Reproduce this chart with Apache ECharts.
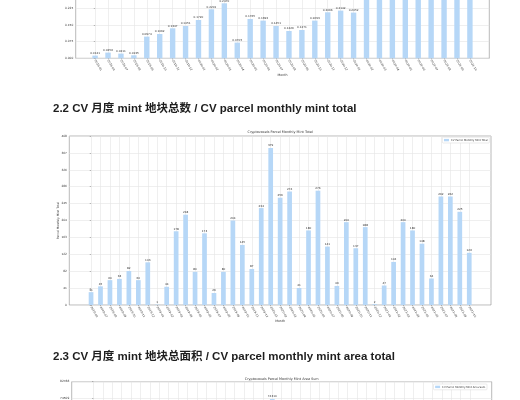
<!DOCTYPE html>
<html><head><meta charset="utf-8">
<script src="https://cdn.jsdelivr.net/npm/echarts@6/dist/echarts.min.js"></script>
<style>html,body{margin:0;padding:0;background:#fff}#c{width:520px;height:400px}</style>
</head><body><div id="c"></div>
<script>
// ---- data ----
const topMonths = ['2019-05','2019-06','2019-07','2019-08','2019-09','2019-10','2019-11','2019-12',
  '2020-01','2020-02','2020-03','2020-04','2020-05','2020-06','2020-07','2020-08','2020-09','2020-10','2020-11','2020-12',
  '2021-01','2021-02','2021-03','2021-04','2021-05','2021-06','2021-07','2021-08','2021-09','2021-10'];
const topValues = [0.0121,0.0256,0.0211,0.0135,0.0974,0.1092,0.1347,0.1451,0.1720,0.2201,0.2470,0.0705,0.1765,0.1693,
  0.1451,0.1226,0.1271,0.1693,0.2066,0.2142,0.2052,0.3120,0.3580,0.3960,0.4310,0.4740,0.5210,0.5790,0.6480,0.7140];
const topYLabels = ['0.000','0.075','0.150','0.225','0.300','0.375','0.450','0.525','0.600','0.675','0.750'];

const months = ['2018-06','2018-07','2018-08','2018-09','2018-10','2018-11','2018-12',
  '2019-01','2019-02','2019-03','2019-04','2019-05','2019-06','2019-07','2019-08','2019-09','2019-10','2019-11','2019-12',
  '2020-01','2020-02','2020-03','2020-04','2020-05','2020-06','2020-07','2020-08','2020-09','2020-10','2020-11','2020-12',
  '2021-01','2021-02','2021-03','2021-04','2021-05','2021-06','2021-07','2021-08','2021-09','2021-10'];
const mintTotal = [31,45,60,63,82,60,103,1,44,178,218,80,173,29,80,204,145,87,234,379,259,274,41,180,276,141,46,200,137,188,2,47,104,200,180,148,64,262,262,225,126];
const mintYLabels = ['0','41','82','122','163','204','245','286','326','367','408'];

const areaSum = [5900,8600,11400,12000,15600,11400,19600,200,8400,33800,41400,15200,32900,5500,15200,38800,27600,16500,44500,74310,
  49200,52100,7800,34200,52400,26800,8700,38000,26000,35700,400,8900,19800,38000,34200,28100,12200,49800,49800,42800,23900];
const areaYLabels = ['0','8279','16558','24836','33115','41394','49673','57952','66230','74509','82788'];

const heading22 = '2.2 CV 月度 mint 地块总数 / CV parcel monthly mint total';
const heading23 = '2.3 CV 月度 mint 地块总面积 / CV parcel monthly mint area total';
const mainTitle = 'Cryptovoxels Parcel Monthly Mint Total';
const areaTitle = 'Cryptovoxels Parcel Monthly Mint Area Sum';

// ---- styles ----
const FF = 'DejaVu Sans';
const BAR = '#b6d7f7';
const TXT = '#333';
const idx = n => Array.from({length:n}, (_, i) => i);

function xAxisCfg(grid, n, lo, hi, labels, name){
  return {
    type:'value', gridIndex:grid, min:lo, max:hi,
    name:name, nameLocation:'middle', nameGap:15, nameMoveOverlap:false,
    nameTextStyle:{fontSize:3.2, color:TXT, fontFamily:FF},
    axisLine:{show:false},
    axisTick:{show:true, length:1.3, lineStyle:{color:'#777', width:0.5}, customValues:idx(n)},
    axisLabel:{customValues:idx(n), rotate:-60, fontSize:2.9, color:TXT, fontFamily:FF, margin:1.8,
      formatter:v => labels[Math.round(v)]},
    splitLine:{show:true, lineStyle:{color:'#e4e4e4', width:0.6}}
  };
}
function yAxisCfg(grid, max, labels, name, gap){
  return {
    type:'value', gridIndex:grid, min:0, max:max, interval:max/10,
    name:name, nameLocation:'middle', nameGap:gap, nameMoveOverlap:false,
    nameTextStyle:{fontSize:3.0, color:TXT, fontFamily:FF},
    axisLine:{show:false},
    axisTick:{show:true, length:1.3, lineStyle:{color:'#777', width:0.5}},
    axisLabel:{fontSize:2.9, color:TXT, fontFamily:FF, margin:2.4,
      formatter:(v, i) => labels[Math.round(v / (max/10))]},
    splitLine:{show:true, lineStyle:{color:'#e4e4e4', width:0.6}}
  };
}
function barSeries(name, grid, values, w, fmt){
  return {
    type:'bar', name:name, xAxisIndex:grid, yAxisIndex:grid,
    data: values.map((v, i) => [i, v]),
    barWidth:w, itemStyle:{color:BAR},
    label:{show:true, position:'top', distance:0.8, fontSize:2.8, color:TXT, fontFamily:FF,
      formatter:p => fmt(p.value[1])},
    emphasis:{disabled:true}
  };
}
function legendCfg(name, right, top){
  return {
    data:[name], right:right, top:top, orient:'vertical', icon:'rect',
    itemWidth:5, itemHeight:2.4, itemGap:0,
    textStyle:{fontSize:2.6, color:TXT, fontFamily:FF, padding:[0,0,0,-3]},
    padding:[1.4,1.6,1.4,1.6], borderColor:'#d6d6d6', borderWidth:0.5, borderRadius:0.8,
    backgroundColor:'#fff', selectedMode:false
  };
}

const gridBorder = {show:true, borderColor:'#8c8c8c', borderWidth:0.6, backgroundColor:'transparent',
  containLabel:false, outerBoundsMode:'none'};

const option = {
  animation:false,
  backgroundColor:'#fff',
  grid:[
    Object.assign({left:75.7, right:30.7, top:-108.7, height:167}, gridBorder),
    Object.assign({left:69.3, right:29, top:136, height:169}, gridBorder),
    Object.assign({left:71.7, right:28.3, top:381.7, height:169}, gridBorder)
  ],
  xAxis:[
    xAxisCfg(0, topMonths.length, -1.5, 30.5, topMonths, 'Month'),
    xAxisCfg(1, months.length, -2.3, 42.3, months, 'Month'),
    xAxisCfg(2, months.length, -2.3, 42.3, months, 'Month')
  ],
  yAxis:[
    yAxisCfg(0, 0.75, topYLabels, '', 12),
    yAxisCfg(1, 408, mintYLabels, 'Parcel Monthly Mint Total', 9.4),
    yAxisCfg(2, 82788, areaYLabels, 'Parcel Monthly Mint Area Sum', 12)
  ],
  legend:[
    legendCfg('CV Parcel Monthly Mint Total', 30.7, 137.2),
    legendCfg('CV Parcel Monthly Mint Area Sum', 33, 384)
  ],
  series:[
    barSeries('CV Parcel Monthly Avg', 0, topValues, 5.4, v => v.toFixed(4)),
    barSeries('CV Parcel Monthly Mint Total', 1, mintTotal, 4.7, v => String(v)),
    barSeries('CV Parcel Monthly Mint Area Sum', 2, areaSum, 4.7, v => String(v))
  ],
  graphic:[
    {type:'text', x:53, y:108.5, style:{text:heading22, font:'bold 11.5px "Liberation Sans","Noto Sans CJK SC",sans-serif', fill:'#1e1e1e', verticalAlign:'middle', align:'left'}},
    {type:'text', x:53, y:356.7, style:{text:heading23, font:'bold 11.5px "Liberation Sans","Noto Sans CJK SC",sans-serif', fill:'#1e1e1e', verticalAlign:'middle', align:'left'}},
    {type:'text', x:280.2, y:132.6, style:{text:mainTitle, font:'3.4px "DejaVu Sans"', fill:TXT, verticalAlign:'middle', align:'center'}},
    {type:'text', x:281.7, y:379.3, style:{text:areaTitle, font:'3.4px "DejaVu Sans"', fill:TXT, verticalAlign:'middle', align:'center'}}
  ]
};
const chart = echarts.init(document.getElementById('c'), null, {renderer:'canvas'});
chart.setOption(option);
</script></body></html>
